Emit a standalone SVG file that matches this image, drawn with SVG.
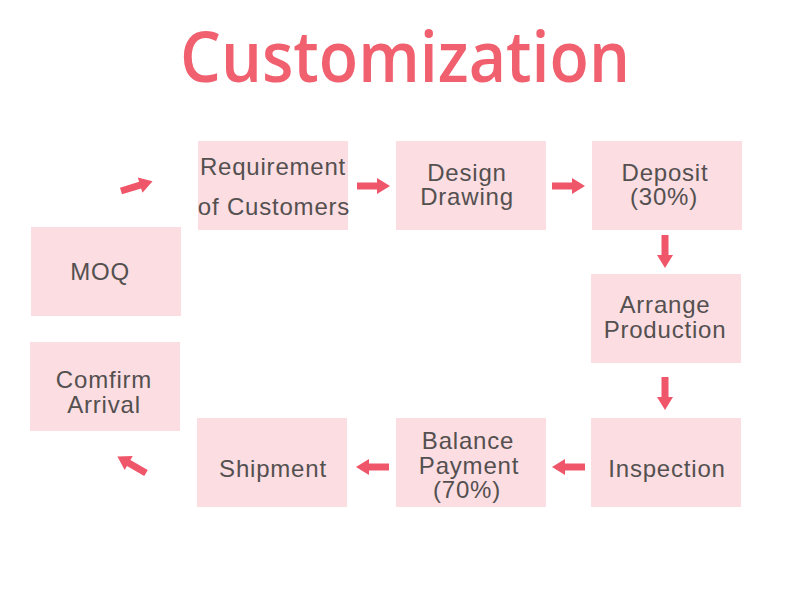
<svg xmlns="http://www.w3.org/2000/svg" width="800" height="600" viewBox="0 0 800 600">
<defs>
<style>
.box{fill:#fbdde2}
.t{font-family:"Liberation Sans",Arial,sans-serif;font-size:24px;fill:#545050;text-anchor:middle;letter-spacing:0.8px}
.title{font-family:"Open Sans","Lato",sans-serif;font-size:70px;font-weight:600;fill:#f0606f;text-anchor:middle}
.arr{fill:#f0566a}
</style>
<path id="ar" class="arr" d="M0,-3.5 L20,-3.5 L20,-8 L33,0 L20,8 L20,3.5 L0,3.5 Z"/>
</defs>
<rect width="800" height="600" fill="#ffffff"/>
<text class="title" x="405" y="82" textLength="450" lengthAdjust="spacingAndGlyphs">Customization</text>
<g id="n-req"><rect class="box" x="198" y="141" width="150" height="89"/><text class="t" x="273" y="175">Requirement</text><text class="t" x="274" y="215">of Customers</text></g>
<g id="n-design"><rect class="box" x="396" y="141" width="150" height="89"/><text class="t" x="467" y="181">Design</text><text class="t" x="467" y="205">Drawing</text></g>
<g id="n-deposit"><rect class="box" x="592" y="141" width="150" height="89"/><text class="t" x="665" y="181">Deposit</text><text class="t" x="664" y="205">(30%)</text></g>
<g id="n-arrange"><rect class="box" x="591" y="274" width="150" height="89"/><text class="t" x="665" y="313">Arrange</text><text class="t" x="665" y="338">Production</text></g>
<g id="n-inspection"><rect class="box" x="591" y="418" width="150" height="89"/><text class="t" x="667" y="477">Inspection</text></g>
<g id="n-balance"><rect class="box" x="396" y="418" width="150" height="89"/><text class="t" x="468" y="449">Balance</text><text class="t" x="469" y="474">Payment</text><text class="t" x="467" y="498">(70%)</text></g>
<g id="n-shipment"><rect class="box" x="197" y="418" width="150" height="89"/><text class="t" x="273" y="477">Shipment</text></g>
<g id="n-moq"><rect class="box" x="31" y="227" width="150" height="89"/><text class="t" x="100" y="280">MOQ</text></g>
<g id="n-arrival"><rect class="box" x="30" y="342" width="150" height="89"/><text class="t" x="104" y="388">Comfirm</text><text class="t" x="104" y="413">Arrival</text></g>
<g id="connectors">
<use href="#ar" transform="translate(121,191) rotate(-17)"/>
<use href="#ar" transform="translate(357,186)"/>
<use href="#ar" transform="translate(552,186)"/>
<use href="#ar" transform="translate(665,235) rotate(90)"/>
<use href="#ar" transform="translate(665,377) rotate(90)"/>
<use href="#ar" transform="translate(585,467) rotate(180)"/>
<use href="#ar" transform="translate(389,467) rotate(180)"/>
<use href="#ar" transform="translate(146,473) rotate(-150)"/>
</g>
</svg>
